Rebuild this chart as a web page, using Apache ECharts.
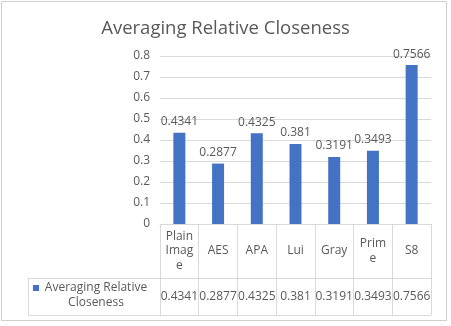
<!DOCTYPE html>
<html><head><meta charset="utf-8">
<script src="https://cdn.jsdelivr.net/npm/echarts@6/dist/echarts.min.js"></script>
<style>html,body{margin:0;padding:0;background:#fff}#c{width:451px;height:326px}</style>
</head><body><div id="c"></div>
<script>
const categories = ["Plain Image", "AES", "APA", "Lui", "Gray", "Prime", "S8"];
const tickLabels = ["Plain\nImag\ne", "AES", "APA", "Lui", "Gray", "Prim\ne", "S8"];
const values = [0.4341, 0.2877, 0.4325, 0.381, 0.3191, 0.3493, 0.7566];
const seriesName = "Averaging Relative Closeness";
const yTicks = [0, 0.1, 0.2, 0.3, 0.4, 0.5, 0.6, 0.7, 0.8];

const FONT = "Open Sans";
const TXT = "#595959";
const LINE = "#d9d9d9";
const chart = echarts.init(document.getElementById('c'), null, {renderer: 'canvas'});
chart.setOption({
  animation: false,
  textStyle: {fontFamily: FONT},
  title: {text: "Averaging Relative Closeness", left: 'center', top: 14,
    textStyle: {fontFamily: FONT, fontSize: 18.5, fontWeight: 'normal', color: TXT}},
  legend: {
    show: true, left: 33, top: 267, icon: 'rect', itemWidth: 6, itemHeight: 6, padding: 0,
    formatter: () => '{a| }\n{a|Averaging Relative}\n{a|Closeness}',
    textStyle: {color: TXT, fontFamily: FONT, fontSize: 12,
      rich: {a: {width: 104, align: 'center', fontSize: 12, lineHeight: 15, color: TXT, fontFamily: FONT}}}
  },
  grid: {left: 160, right: 20, top: 56, bottom: 102},
  xAxis: [{
    type: 'category', data: categories, position: 'bottom',
    axisLine: {lineStyle: {color: LINE}},
    axisTick: {show: true, length: 91, interval: 0, lineStyle: {color: LINE}},
    axisLabel: {interval: 0, margin: 27, verticalAlign: 'middle', fontSize: 12, lineHeight: 14.5, color: TXT,
      formatter: (v, i) => tickLabels[i]}
  }, {
    type: 'category', data: categories, position: 'bottom',
    axisLine: {show: false}, axisTick: {show: false},
    axisLabel: {interval: 0, margin: 73, verticalAlign: 'middle', fontSize: 12, color: TXT,
      formatter: (v, i) => String(values[i])}
  }],
  yAxis: {
    type: 'value', min: 0, max: 0.8, interval: 0.1,
    axisLine: {show: false}, axisTick: {show: false},
    splitLine: {lineStyle: {color: LINE}},
    axisLabel: {margin: 10, fontSize: 12, color: TXT, formatter: v => {
      const t = yTicks.find(x => Math.abs(x - v) < 1e-9); return t === 0 ? '0' : String(t);
    }}
  },
  series: [{
    name: seriesName, type: 'bar', data: values, barWidth: 12, xAxisIndex: 0,
    itemStyle: {color: '#4472C4'},
    label: {show: true, position: 'top', distance: 5, fontSize: 12, color: TXT, fontFamily: FONT,
      formatter: p => String(p.value)}
  }],
  graphic: [
    {type: 'rect', shape: {x: 1.5, y: 1.5, width: 445, height: 319}, style: {fill: null, stroke: '#d0d0d0', lineWidth: 1}, silent: true, z: -1},
    {type: 'line', shape: {x1: 28, y1: 278.5, x2: 431, y2: 278.5}, style: {stroke: LINE, lineWidth: 1}},
    {type: 'line', shape: {x1: 28, y1: 315.5, x2: 431, y2: 315.5}, style: {stroke: LINE, lineWidth: 1}},
    {type: 'line', shape: {x1: 28.5, y1: 278, x2: 28.5, y2: 316}, style: {stroke: LINE, lineWidth: 1}}
  ]
});
</script></body></html>
